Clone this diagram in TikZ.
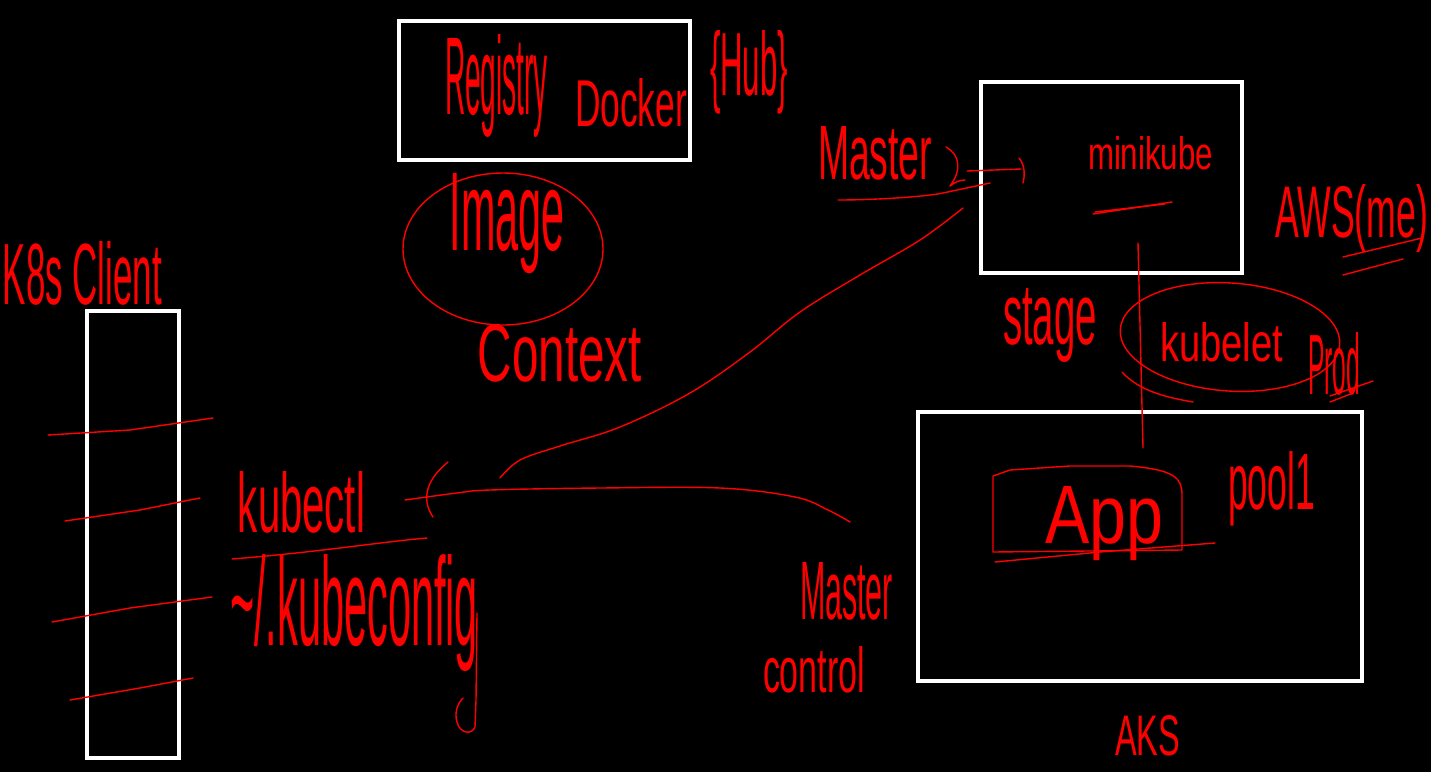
\documentclass[tikz,border=0pt]{standalone}
\usepackage{fontspec}
\setmainfont{Liberation Sans}
\usetikzlibrary{arrows.meta}
\newcommand\hw[3]{\resizebox{#1pt}{#2pt}{#3}}
\tikzset{
  wbox/.style={draw=white, line width=4.5pt},
  hand/.style={text=red, inner sep=0pt, outer sep=0pt},
  ink/.style={draw=red, line width=1.4pt, line cap=round, line join=round},
}
\begin{document}
\begin{tikzpicture}[x=1pt,y=-1pt]
\fill[black] (0,0) rectangle (1431,772);
\useasboundingbox (0,0) rectangle (1431,772);

% white boxes
\node[wbox, minimum width=291pt, minimum height=139pt, inner sep=0pt] (regbox) at (544.5,90.5) {};
\node[wbox, minimum width=261pt, minimum height=191pt, inner sep=0pt] (mkbox) at (1111.5,177.5) {};
\node[wbox, minimum width=92pt, minimum height=447pt, inner sep=0pt] (clientbox) at (133,534.5) {};
\node[wbox, minimum width=444pt, minimum height=269pt, inner sep=0pt] (aksbox) at (1140,546.5) {};

% texts
\node[hand] (registry) at (496.5,86) {\hw{103}{80}{Registry}};
\node[hand] (docker) at (631,103) {\hw{112}{48}{Docker}};
\node[hand] (hub) at (749,72) {\hw{78}{65}{\{Hub\}}};
\node[hand] (image) at (507.5,223.5) {\hw{115}{77}{Image}};
\node[hand] (context) at (560,353.5) {\hw{164}{57}{Context}};
\node[hand] (mastertop) at (875,153.5) {\hw{114}{53}{Master}};
\node[hand] (minikube) at (1150.5,153.5) {\hw{125}{33}{minikube}};
\node[hand] (stage) at (1050,325) {\hw{94}{56}{stage}};
\node[hand] (kubelet) at (1221.5,342.5) {\hw{123}{39}{kubelet}};
\node[hand] (prod) at (1334,364) {\hw{52}{62}{Prod}};
\node[hand] (aws) at (1351.5,218.5) {\hw{153}{53}{AWS(me)}};
\node[hand] (client) at (82.5,273.5) {\hw{159}{63}{K8s Client}};
\node[hand] (kubectl) at (301.5,502.5) {\hw{127}{61}{kubectl}};
\node[hand] (kubeconfig) at (354,612.5) {\hw{248}{91}{\textasciitilde/.kubeconfig}};
\node[hand] (masterbot) at (846.5,591.5) {\hw{93}{57}{Master}};
\node[hand] (control) at (814,670) {\hw{102}{46}{control}};
\node[hand] (pool) at (1271.5,489) {\hw{87}{58}{pool1}};
\node[hand] (app) at (1104,523.5) {\hw{118}{57}{App}};
\node[hand] (aks) at (1147.5,736) {\hw{65}{40}{AKS}};

% circles
\draw[ink] (503,249) ellipse [x radius=100, y radius=76];
\draw[ink, rotate around={-4:(1230,337)}] (1230,337) ellipse [x radius=110, y radius=54];
\draw[ink] (1122,372) .. controls (1140,392) and (1170,398) .. (1193,402);

% App box
\draw[ink] (993,552) -- (993,476) -- (1010,470) -- (1070,466) -- (1130,466)
  .. controls (1175,470) and (1182,478) .. (1182,495) -- (1182,550) -- cycle;
\draw[ink] (995,562) -- (1100,552) -- (1215,543);

% underlines
\draw[ink] (838,200) .. controls (880,200) and (930,196) .. (943,193) -- (990,183);
\draw[ink] (1093,214) -- (1172,202);
\draw[ink] (1095,212) -- (1165,204);
\draw[ink] (1343,257) -- (1422,238);
\draw[ink] (1343,275) -- (1403,259);
\draw[ink] (1330,396) -- (1373,381);
\draw[ink] (1330,402) -- (1353,393);
\draw[ink] (232,559) .. controls (320,552) and (380,542) .. (427,538);

% client box crossing lines
\draw[ink] (48,435) -- (130,430) -- (213,418);
\draw[ink] (65,521) -- (140,510) -- (200,498);
\draw[ink] (52,622) -- (130,608) -- (212,597);
\draw[ink] (70,700) -- (140,688) -- (193,678);

% master -> minikube
\coordinate (mtail) at (967,171);
\coordinate (mhead) at (1021,169);
\draw[ink] (946,147) .. controls (960,155) and (962,170) .. (950,186) .. controls (955,182) and (960,180) .. (965,180);
\draw[ink] (mtail) -- (mhead);
\draw[ink] (1019,158) .. controls (1025,165) and (1025,175) .. (1023,183);

% minikube -> App vertical
\coordinate (vtop) at (1138,243);
\coordinate (vbot) at (1143,448);
\draw[ink] (vtop) -- (vbot);

% curve from minikube to kubectl
\coordinate (cstart) at (963,208);
\coordinate (cend) at (500,478);
\draw[ink] plot[smooth, tension=0.6] coordinates {(cstart) (920,240) (860,275) (800,312) (750,352) (690,393) (620,427) (560,446) (520,460) (cend)};

% master control -> kubectl
\coordinate (mcstart) at (850,522);
\coordinate (kend) at (405,500);
\draw[ink] plot[smooth, tension=0.6] coordinates {(mcstart) (828,510) (795,497) (720,488) (600,488) (490,490) (457,493) (kend)};
\draw[ink] (448,462) .. controls (428,478) and (420,498) .. (433,517);

% line below config
\draw[ink] (477,613) -- (476,700) -- (475,727) .. controls (472,735) and (460,734) .. (457,722)
  .. controls (454,712) and (458,703) .. (463,698);
\end{tikzpicture}
\end{document}
